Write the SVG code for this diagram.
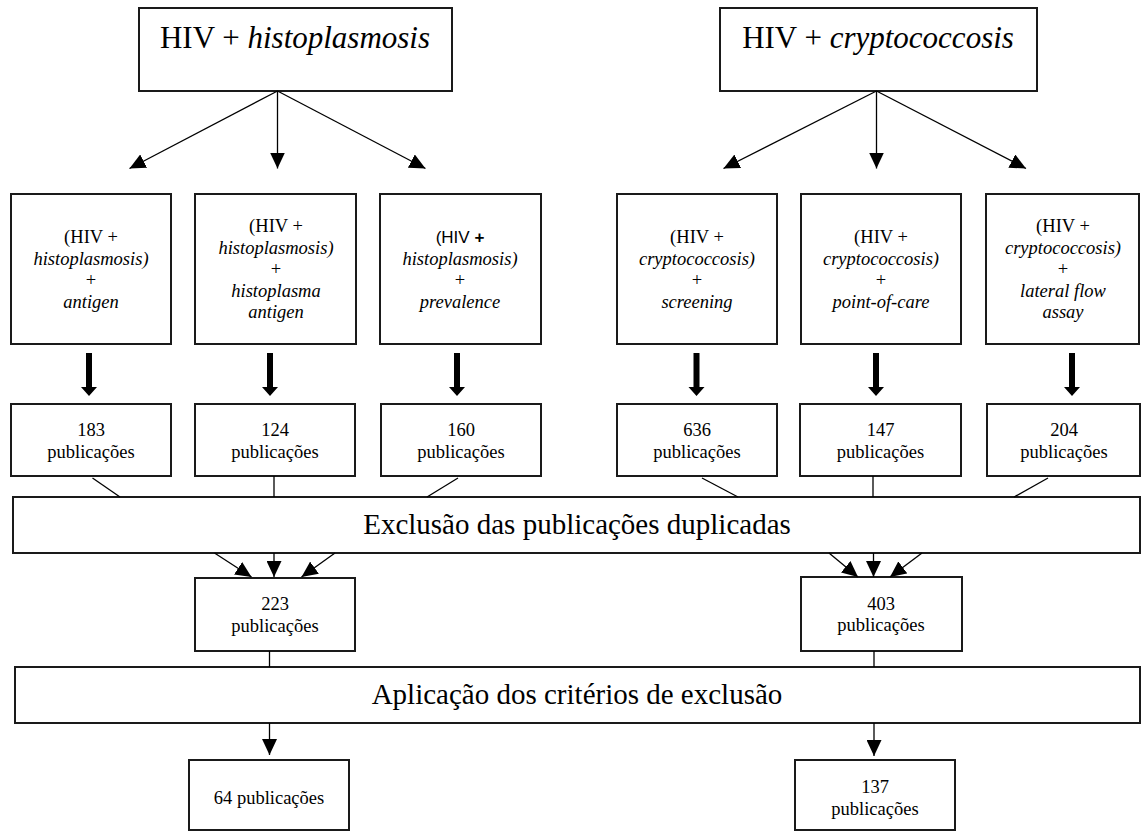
<svg xmlns="http://www.w3.org/2000/svg" width="1142" height="832" viewBox="0 0 1142 832">
<style>
.box{fill:#fff;stroke:#1a1a1a;stroke-width:2}
.t{font-family:"Liberation Serif","Times New Roman",serif;fill:#000;text-anchor:middle}
.title{font-size:31px}
.bar{font-size:29px}
.s{font-size:18.5px}
.i{font-style:italic}
.sans{font-family:"Liberation Sans",Arial,sans-serif;font-size:17px}
.ln{stroke:#000;stroke-width:1.3;fill:none}
.arr{marker-end:url(#ah)}
.thick{fill:#000}
</style>
<defs>
<marker id="ah" markerUnits="userSpaceOnUse" viewBox="0 0 16 15" refX="16" refY="7.5" markerWidth="16" markerHeight="15" orient="auto">
<path d="M0,0 L16,7.5 L0,15 Z" fill="#000"/>
</marker>
</defs>

<g id="top-histo"><rect class="box" x="139" y="8" width="313" height="83"/><text class="t title" x="295" y="48"><tspan>HIV + </tspan><tspan class="i">histoplasmosis</tspan></text></g>
<g id="top-crypto"><rect class="box" x="720" y="8" width="317" height="83"/><text class="t title" x="878" y="48"><tspan>HIV + </tspan><tspan class="i">cryptococcosis</tspan></text></g>

<g id="q-h1"><rect class="box" x="11" y="194" width="160" height="150"/>
<text class="t s" x="91" y="243">(HIV +</text><text class="t s i" x="91" y="264.5">histoplasmosis)</text><text class="t s" x="91" y="286">+</text><text class="t s i" x="91" y="307.5">antigen</text></g>
<g id="q-h2"><rect class="box" x="195" y="194" width="161" height="150"/>
<text class="t s" x="276" y="232">(HIV +</text><text class="t s i" x="276" y="253.5">histoplasmosis)</text><text class="t s" x="276" y="275">+</text><text class="t s i" x="276" y="296.5">histoplasma</text><text class="t s i" x="276" y="318">antigen</text></g>
<g id="q-h3"><rect class="box" x="380" y="194" width="161" height="150"/>
<text class="t sans" x="460" y="243">(HIV <tspan font-weight="bold">+</tspan></text><text class="t s i" x="460" y="264.5">histoplasmosis)</text><text class="t s" x="460" y="286">+</text><text class="t s i" x="460" y="307.5">prevalence</text></g>
<g id="q-c1"><rect class="box" x="617" y="194" width="160" height="150"/>
<text class="t s" x="697" y="243">(HIV +</text><text class="t s i" x="697" y="264.5">cryptococcosis)</text><text class="t s" x="697" y="286">+</text><text class="t s i" x="697" y="307.5">screening</text></g>
<g id="q-c2"><rect class="box" x="801" y="194" width="160" height="150"/>
<text class="t s" x="881" y="243">(HIV +</text><text class="t s i" x="881" y="264.5">cryptococcosis)</text><text class="t s" x="881" y="286">+</text><text class="t s i" x="881" y="307.5">point-of-care</text></g>
<g id="q-c3"><rect class="box" x="986" y="194" width="153" height="150"/>
<text class="t s" x="1063" y="232">(HIV +</text><text class="t s i" x="1063" y="253.5">cryptococcosis)</text><text class="t s" x="1063" y="275">+</text><text class="t s i" x="1063" y="296.5">lateral flow</text><text class="t s i" x="1063" y="318">assay</text></g>

<g id="n183"><rect class="box" x="11" y="404" width="160" height="72"/><text class="t s" x="91" y="436">183</text><text class="t s" x="91" y="457.5">publicações</text></g>
<g id="n124"><rect class="box" x="195" y="404" width="160" height="72"/><text class="t s" x="275" y="436">124</text><text class="t s" x="275" y="457.5">publicações</text></g>
<g id="n160"><rect class="box" x="381" y="404" width="160" height="72"/><text class="t s" x="461" y="436">160</text><text class="t s" x="461" y="457.5">publicações</text></g>
<g id="n636"><rect class="box" x="617" y="404" width="160" height="72"/><text class="t s" x="697" y="436">636</text><text class="t s" x="697" y="457.5">publicações</text></g>
<g id="n147"><rect class="box" x="800" y="404" width="161" height="72"/><text class="t s" x="880.5" y="436">147</text><text class="t s" x="880.5" y="457.5">publicações</text></g>
<g id="n204"><rect class="box" x="987" y="404" width="153" height="72"/><text class="t s" x="1064" y="436">204</text><text class="t s" x="1064" y="457.5">publicações</text></g>

<g id="bar-dup"><rect class="box" x="13" y="497" width="1127" height="56"/><text class="t bar" x="577" y="534">Exclusão das publicações duplicadas</text></g>

<g id="n223"><rect class="box" x="195" y="578" width="160" height="73"/><text class="t s" x="275" y="610">223</text><text class="t s" x="275" y="631.5">publicações</text></g>
<g id="n403"><rect class="box" x="801" y="577" width="161" height="74"/><text class="t s" x="881" y="609.5">403</text><text class="t s" x="881" y="631">publicações</text></g>

<g id="bar-crit"><rect class="box" x="15" y="667" width="1125" height="56"/><text class="t bar" x="577" y="704">Aplicação dos critérios de exclusão</text></g>

<g id="n64"><rect class="box" x="189" y="760" width="160" height="70"/><text class="t s" x="269" y="804">64 publicações</text></g>
<g id="n137"><rect class="box" x="795" y="760" width="160" height="70"/><text class="t s" x="875" y="793">137</text><text class="t s" x="875" y="815">publicações</text></g>

<g id="connectors">
<line class="ln arr" x1="277.5" y1="91" x2="129.5" y2="168.5"/>
<line class="ln arr" x1="277.5" y1="91" x2="277.5" y2="168.5"/>
<line class="ln arr" x1="277.5" y1="91" x2="425.5" y2="168.5"/>
<line class="ln arr" x1="876.5" y1="91" x2="723.5" y2="168.5"/>
<line class="ln arr" x1="876.5" y1="91" x2="876.5" y2="168.5"/>
<line class="ln arr" x1="876.5" y1="91" x2="1026" y2="168.5"/>

<path class="thick" d="M86,353 H92 V387 H97 L89,396 L81,387 H86 Z"/>
<path class="thick" d="M267,353 H273 V387 H278 L270,396 L262,387 H267 Z"/>
<path class="thick" d="M454,353 H460 V387 H465 L457,396 L449,387 H454 Z"/>
<path class="thick" d="M693.5,353 H699.5 V387 H704.5 L696.5,396 L688.5,387 H693.5 Z"/>
<path class="thick" d="M873,353 H879 V387 H884 L876,396 L868,387 H873 Z"/>
<path class="thick" d="M1069,353 H1075 V387 H1080 L1072,396 L1064,387 H1069 Z"/>

<line class="ln" x1="92.5" y1="478" x2="120" y2="497"/>
<line class="ln" x1="274" y1="476" x2="274" y2="497"/>
<line class="ln" x1="458" y1="478" x2="427" y2="497"/>
<line class="ln" x1="702" y1="478" x2="738" y2="497"/>
<line class="ln" x1="873" y1="476" x2="873" y2="497"/>
<line class="ln" x1="1048" y1="478" x2="1014" y2="497"/>

<line class="ln arr" x1="214.5" y1="553" x2="251.5" y2="577"/>
<line class="ln arr" x1="274" y1="553" x2="274" y2="577"/>
<line class="ln arr" x1="335" y1="553" x2="301.5" y2="577"/>
<line class="ln arr" x1="829" y1="553" x2="858" y2="577"/>
<line class="ln arr" x1="873.5" y1="553" x2="873.5" y2="577"/>
<line class="ln arr" x1="922" y1="553" x2="890" y2="577"/>

<line class="ln" x1="269.5" y1="651" x2="269.5" y2="667"/>
<line class="ln" x1="874" y1="651" x2="874" y2="667"/>
<line class="ln arr" x1="269.5" y1="723" x2="269.5" y2="755"/>
<line class="ln arr" x1="874" y1="723" x2="874" y2="756"/>
</g>
</svg>
